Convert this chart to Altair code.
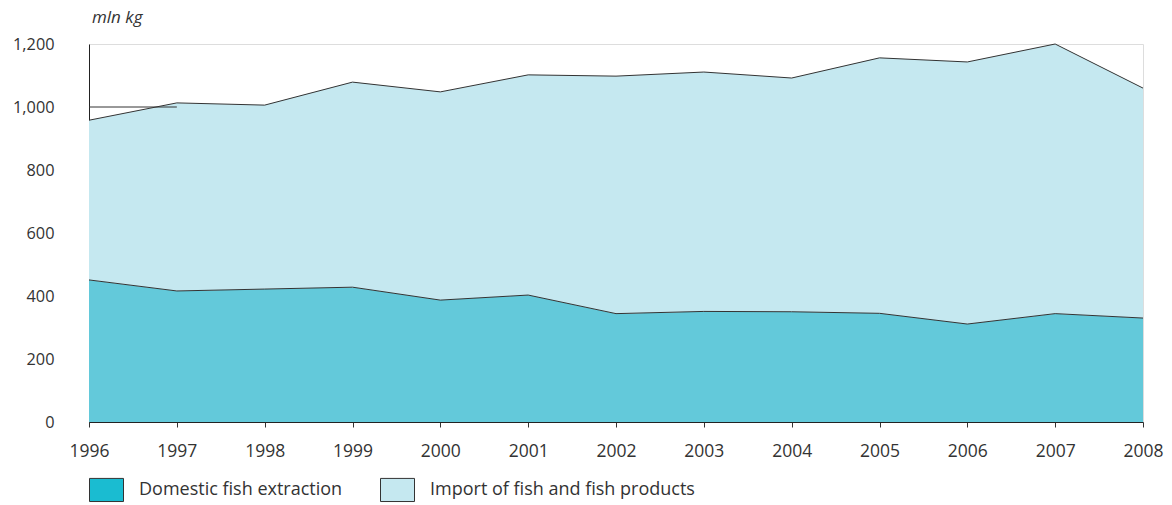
import altair as alt
import pandas as pd

years = [1996, 1997, 1998, 1999, 2000, 2001, 2002, 2003, 2004, 2005, 2006, 2007, 2008]
domestic = [451, 416, 422, 428, 387, 403, 344, 351, 350, 345, 311, 344, 330]
imports = [507, 597, 584, 651, 661, 699, 754, 760, 742, 811, 832, 856, 730]
series_names = ["Domestic fish extraction", "Import of fish and fish products"]
area_colors = ["#63C9DA", "#C5E8F0"]
swatch_colors = ["#1ABCD1", "#C5E8F0"]
y_ticks = [0, 200, 400, 600, 800, 1000, 1200]

rows = []
for i, yr in enumerate(years):
    rows.append({"year": yr, "series": series_names[0], "value": domestic[i], "ord": 0})
    rows.append({"year": yr, "series": series_names[1], "value": imports[i], "ord": 1})
df = pd.DataFrame(rows)

FONT = "Open Sans"
TXT = "#333333"

x_enc = alt.X("year:Q", scale=alt.Scale(domain=[1996, 2008], nice=False, zero=False),
              axis=alt.Axis(values=years, format="d", title=None, grid=False,
                            tickSize=5, tickColor=TXT, domainColor="#222222",
                            labelFlush=False, labelBound=False,
                            labelPadding=15, labelFontSize=17.5, labelColor=TXT, labelFont=FONT))
y_enc = alt.Y("y1:Q", scale=alt.Scale(domain=[0, 1200], nice=False),
              axis=alt.Axis(values=y_ticks, format=",d", title=None, grid=False,
                            ticks=False, domainColor="#222222", labelPadding=35,
                            labelFontSize=16.3, labelColor=TXT, labelFont=FONT))

base = alt.Chart(df).transform_stack(
    stack="value", groupby=["year"], as_=["y0", "y1"],
    sort=[alt.SortField("ord", order="ascending")]
)

area = base.mark_area(interpolate="linear", opacity=1).encode(
    x=x_enc,
    y=y_enc,
    y2="y0:Q",
    color=alt.Color("series:N", scale=alt.Scale(domain=series_names, range=area_colors), legend=None),
)

lines = base.mark_line(color="#333333", strokeWidth=1, interpolate="linear").encode(
    x="year:Q",
    y="y1:Q",
    detail="series:N",
)

legend_dummy = alt.Chart(df).mark_point(filled=True, opacity=0).encode(
    x="year:Q",
    y="value:Q",
    color=alt.Color("series:N", scale=alt.Scale(domain=series_names, range=swatch_colors),
                    legend=alt.Legend(title=None, orient="none", legendX=0, legendY=428,
                                      direction="horizontal",
                                      symbolType="M-1,-0.68H1V0.68H-1Z", symbolSize=1156,
                                      symbolStrokeColor="#333333", symbolStrokeWidth=1,
                                      symbolOpacity=1,
                                      labelFontSize=18, labelFont=FONT, labelColor=TXT,
                                      labelOffset=15, columnPadding=35, labelLimit=400)),
)

ref_x = [1996]
ref_x2 = [1997]
ref_y = [1000]
rule = alt.Chart(pd.DataFrame({"x": ref_x, "x2": ref_x2, "y": ref_y})).mark_rule(
    color="#333333", strokeWidth=1
).encode(x="x:Q", x2="x2:Q", y="y:Q")

chart = alt.layer(area, lines, rule, legend_dummy).resolve_scale(color="independent").properties(
    width=1054, height=378,
    autosize=alt.AutoSizeParams(type="none"),
    padding={"left": 89, "top": 44, "right": 29, "bottom": 83},
    title=alt.TitleParams("mln kg", anchor="start", frame="group", fontStyle="italic",
                          fontWeight="normal", fontSize=17, font=FONT, color=TXT,
                          offset=9, dx=3),
).configure_view(stroke="#555555", strokeWidth=1).configure(background="white")

chart.save("out.html", embed_options={"renderer": "svg", "actions": False})
